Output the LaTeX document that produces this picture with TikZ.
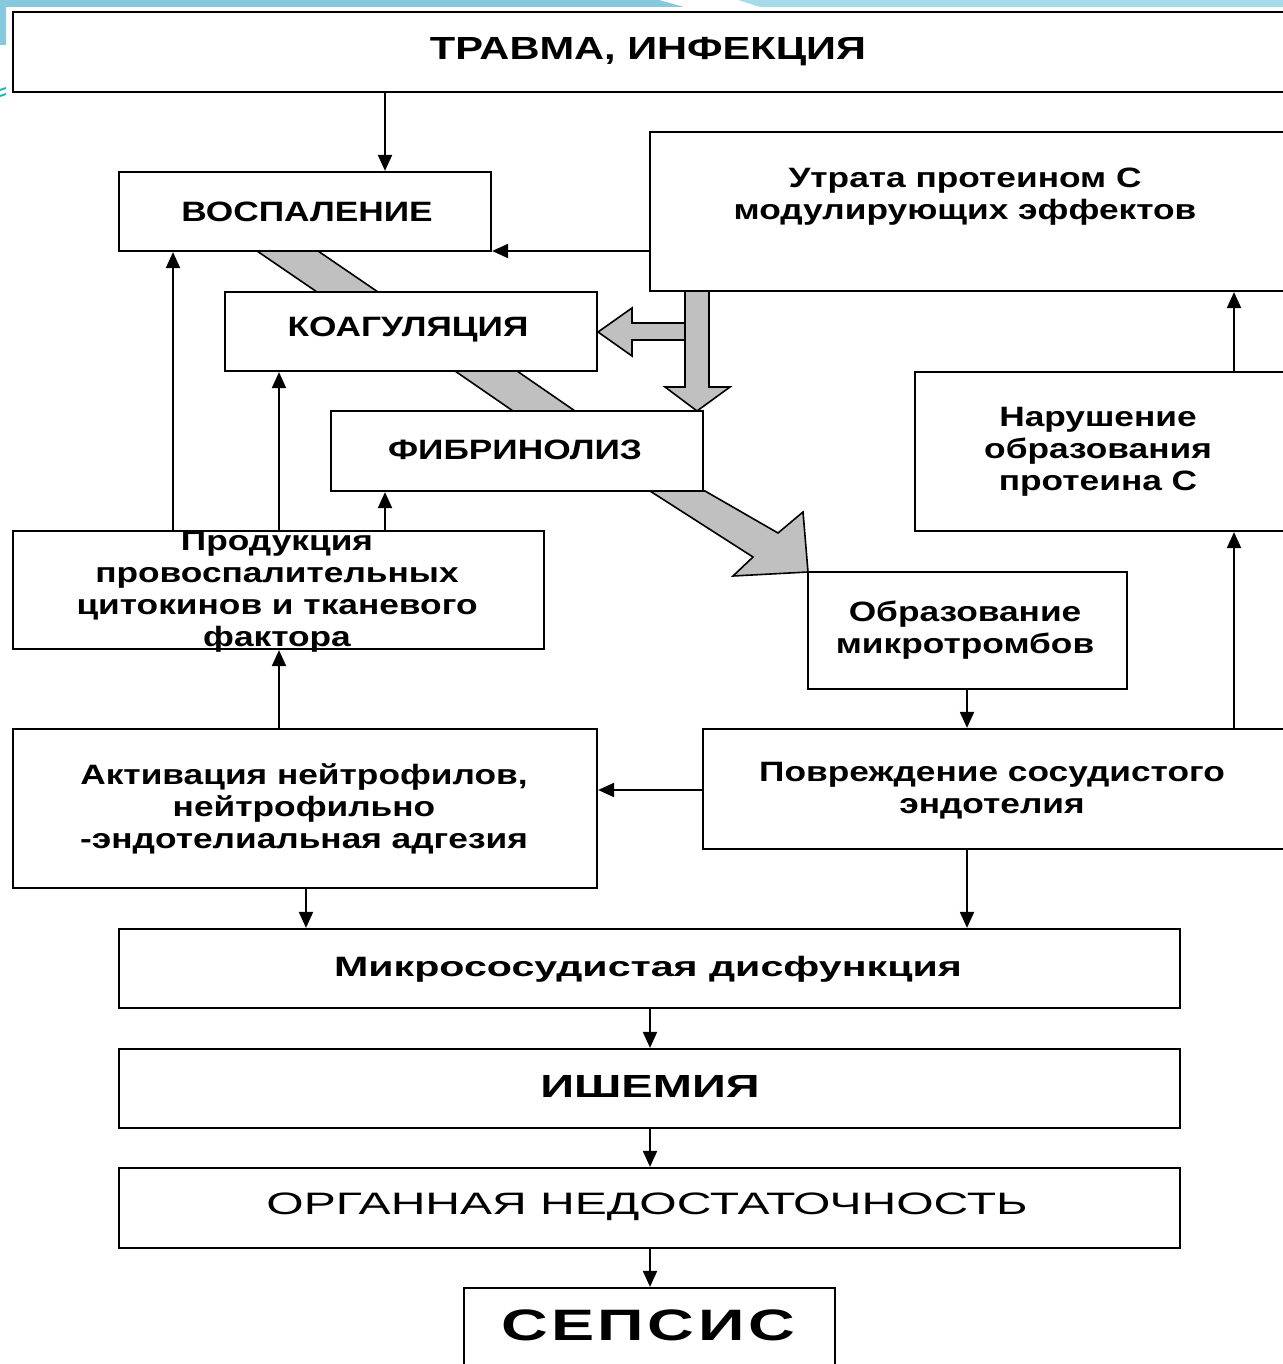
\documentclass[tikz,border=0pt]{standalone}
\usepackage{fontspec}
\usetikzlibrary{arrows.meta}
\newfontfamily\lab{Liberation Sans}[FakeStretch=1.26]
\newfontfamily\labtop{Liberation Sans}[FakeStretch=1.3]
\newfontfamily\wide{Liberation Sans}[FakeStretch=1.47]
\newfontfamily\wider{Liberation Sans}[FakeStretch=1.55]
\definecolor{bandgray}{HTML}{C0C0C0}
\definecolor{cyanA}{HTML}{86C9DD}
\definecolor{cyanB}{HTML}{A6DCEA}
\definecolor{tealA}{HTML}{20B8B0}
\tikzset{
  box/.style={draw, line width=1.1pt, rectangle, inner sep=0pt},
  txt/.style={align=center, inner sep=0pt, font=\lab\bfseries\fontsize{14}{16}\selectfont},
  arr/.style={line width=1pt, -{Triangle[length=8pt,width=7pt]}},
  band/.style={fill=bandgray, draw=black, line width=0.8pt, line join=miter},
}
\newcommand\mybox[5]{\node[box, minimum width={(#4-#2)*0.5pt}, minimum height={(#5-#3)*0.5pt}] (#1) at ({(#2+#4)/2},{(#3+#5)/2}) {};}
\begin{document}
\begin{tikzpicture}[x=0.5pt, y=-0.5pt]
\useasboundingbox (0,0) rectangle (1283,1364);
\clip (0,0) rectangle (1283,1364);
% decoration
\fill[cyanA] (0,0) -- (659,0) -- (684,7) -- (6,7) -- (6,45) -- (0,45) -- cycle;
\fill[cyanB] (738,0) -- (1283,0) -- (1283,7) -- (760,7) -- cycle;
\draw[tealA, line width=1pt] (0,90) -- (6,88) (0,96) -- (6,94);
% coordinates
\foreach \v in {173,279,306,385,650,967,1234} {\coordinate (X\v) at (\v,0);}
\foreach \v in {251,790} {\coordinate (Y\v) at (0,\v);}
% grey block arrows
\filldraw[band] (257,251) -- (318,251) -- (378,292) -- (317,292) -- cycle;
\filldraw[band] (455,371) -- (517,371) -- (575,411) -- (513,411) -- cycle;
\filldraw[band] (685,323) -- (632,323) -- (632,308) -- (598,332) -- (632,356) -- (632,340) -- (685,340);
\filldraw[band] (685,291) -- (709,291) -- (709,387) -- (730,387) -- (697,411) -- (665,387) -- (685,387) -- cycle;
\filldraw[band] (650,491) -- (705,491) -- (778,533) -- (803,512) -- (808,572) -- (733,576) -- (753,557) -- cycle;
% boxes
\mybox{travma}{13}{12}{1295}{92}
\mybox{vosp}{119}{172}{491}{251}
\mybox{utrata}{650}{132}{1295}{291}
\mybox{koag}{225}{292}{597}{371}
\mybox{fibr}{331}{411}{703}{491}
\mybox{narush}{915}{372}{1295}{531}
\mybox{prod}{13}{531}{544}{649}
\mybox{obraz}{808}{572}{1127}{689}
\mybox{aktiv}{13}{729}{597}{888}
\mybox{povr}{703}{729}{1295}{849}
\mybox{mikro}{119}{929}{1180}{1008}
\mybox{ishem}{119}{1049}{1180}{1128}
\mybox{organ}{119}{1168}{1180}{1248}
\mybox{sepsis}{464}{1288}{835}{1380}
% texts
\node[txt, font=\labtop\bfseries\fontsize{16}{18}\selectfont] (travma-t) at (648,52) {ТРАВМА, ИНФЕКЦИЯ};
\node[txt] (vosp-t) at (307,212) {ВОСПАЛЕНИЕ};
\node[txt] (utrata-t) at (965,197) {Утрата протеином С\\модулирующих эффектов};
\node[txt] (koag-t) at (408,330) {КОАГУЛЯЦИЯ};
\node[txt] (fibr-t) at (515,450) {ФИБРИНОЛИЗ};
\node[txt] (narush-t) at (1098,452) {Нарушение\\образования\\протеина С};
\node[txt] (prod-t) at (277,592) {Продукция\\провоспалительных\\цитокинов и тканевого\\фактора};
\node[txt] (obraz-t) at (965,630) {Образование\\микротромбов};
\node[txt] (aktiv-t) at (304,809) {Активация нейтрофилов,\\нейтрофильно\\-эндотелиальная адгезия};
\node[txt] (povr-t) at (992,791) {Повреждение сосудистого\\эндотелия};
\node[txt, font=\wide\bfseries\fontsize{14}{16}\selectfont] (mikro-t) at (648,969) {Микрососудистая дисфункция};
\node[txt, font=\wide\bfseries\fontsize{16}{18}\selectfont] (ishem-t) at (650,1086) {ИШЕМИЯ};
\node[txt, font=\wider\fontsize{15.5}{18}\selectfont] (organ-t) at (647,1207) {ОРГАННАЯ НЕДОСТАТОЧНОСТЬ};
\node[txt, font=\wide\bfseries\fontsize{22}{24}\selectfont\addfontfeature{LetterSpace=8}] (sepsis-t) at (648,1325) {СЕПСИС};
% arrows
\draw[arr] (travma.south -| X385) -- (vosp.north -| X385);
\draw[arr] (utrata.west |- Y251) -- (vosp.east |- Y251);
\draw[arr] (prod.north -| X173) -- (vosp.south -| X173);
\draw[arr] (prod.north -| X279) -- (koag.south -| X279);
\draw[arr] (prod.north -| X385) -- (fibr.south -| X385);
\draw[arr] (aktiv.north -| X279) -- (prod.south -| X279);
\draw[arr] (povr.west |- Y790) -- (aktiv.east |- Y790);
\draw[arr] (obraz.south -| X967) -- (povr.north -| X967);
\draw[arr] (povr.north -| X1234) -- (narush.south -| X1234);
\draw[arr] (narush.north -| X1234) -- (utrata.south -| X1234);
\draw[arr] (aktiv.south -| X306) -- (mikro.north -| X306);
\draw[arr] (povr.south -| X967) -- (mikro.north -| X967);
\draw[arr] (mikro.south -| X650) -- (ishem.north -| X650);
\draw[arr] (ishem.south -| X650) -- (organ.north -| X650);
\draw[arr] (organ.south -| X650) -- (sepsis.north -| X650);
\end{tikzpicture}
\end{document}
